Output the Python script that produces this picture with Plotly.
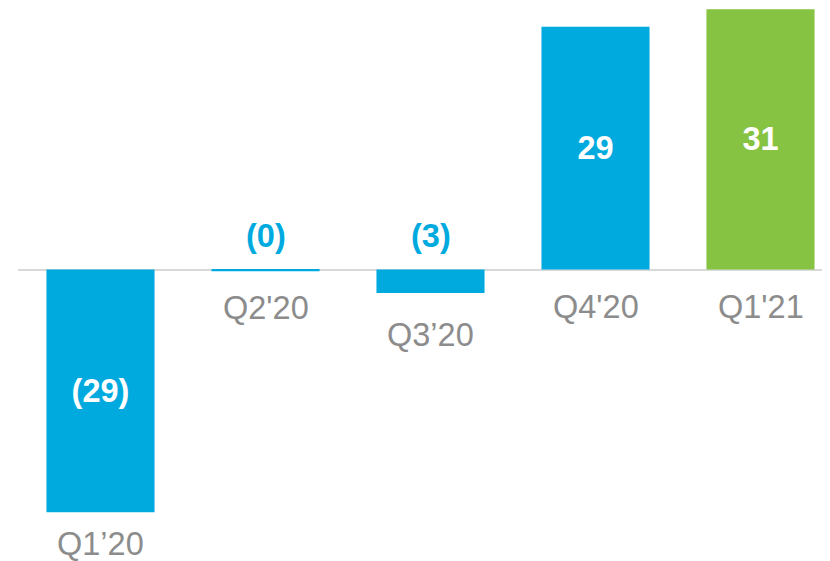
import plotly.graph_objects as go

categories = ["Q1\u201920", "Q2'20", "Q3\u201920", "Q4'20", "Q1'21"]
values = [-29, -0.2, -2.8, 29, 31.1]
bar_colors = ["#00AADF", "#00AADF", "#00AADF", "#00AADF", "#86C342"]

BLUE = "#00AADF"
GRAY = "#8C8C8C"
FONT = "Liberation Sans, Arial, sans-serif"

# page body has an 8px margin: figure sized to fit the remaining window
W, H = 822, 553
BASE = 261.5          # zero line, px from figure top
PX_PER_UNIT = 8.37
LABEL_SHIFTS = [-32, -37, -42, -37, -37]   # category label offsets (px)

def fmt(v):
    r = int(round(abs(v)))
    return f"({r})" if v < 0 else f"{r}"

x = list(range(len(categories)))
inside_text = [fmt(v) if abs(v) >= 10 else "" for v in values]

fig = go.Figure()
fig.add_trace(go.Bar(
    x=x, y=values, width=0.655,
    marker=dict(color=bar_colors, line=dict(width=0)),
    text=inside_text, textposition="inside", insidetextanchor="middle",
    textfont=dict(family=FONT, size=32.5, color="white", weight="bold"),
    textangle=0, hoverinfo="skip",
))

annotations = []
for i, (c, v) in enumerate(zip(categories, values)):
    annotations.append(dict(
        x=i, y=min(v, 0), xref="x", yref="y", text=c, showarrow=False,
        yanchor="middle", yshift=LABEL_SHIFTS[i],
        font=dict(family=FONT, size=32.5, color=GRAY),
    ))
    if abs(v) < 10:
        annotations.append(dict(
            x=i, y=0, xref="x", yref="y", text=f"<b>{fmt(v)}</b>", showarrow=False,
            yanchor="middle", yshift=34,
            font=dict(family=FONT, size=32.5, color=BLUE),
        ))

fig.update_layout(
    width=W, height=H,
    margin=dict(l=10, r=0, t=0, b=0),
    paper_bgcolor="white", plot_bgcolor="white",
    showlegend=False,
    annotations=annotations,
    xaxis=dict(range=[-0.5, -0.5 + (W - 10) / 165], showticklabels=False,
               showgrid=False, zeroline=False, showline=False, ticks=""),
    yaxis=dict(range=[-(H - BASE) / PX_PER_UNIT, BASE / PX_PER_UNIT], showticklabels=False,
               showgrid=False, zeroline=True, zerolinecolor="#D9D9D9",
               zerolinewidth=2, showline=False, ticks=""),
)

fig.write_html("out.html", config={"displayModeBar": False})
